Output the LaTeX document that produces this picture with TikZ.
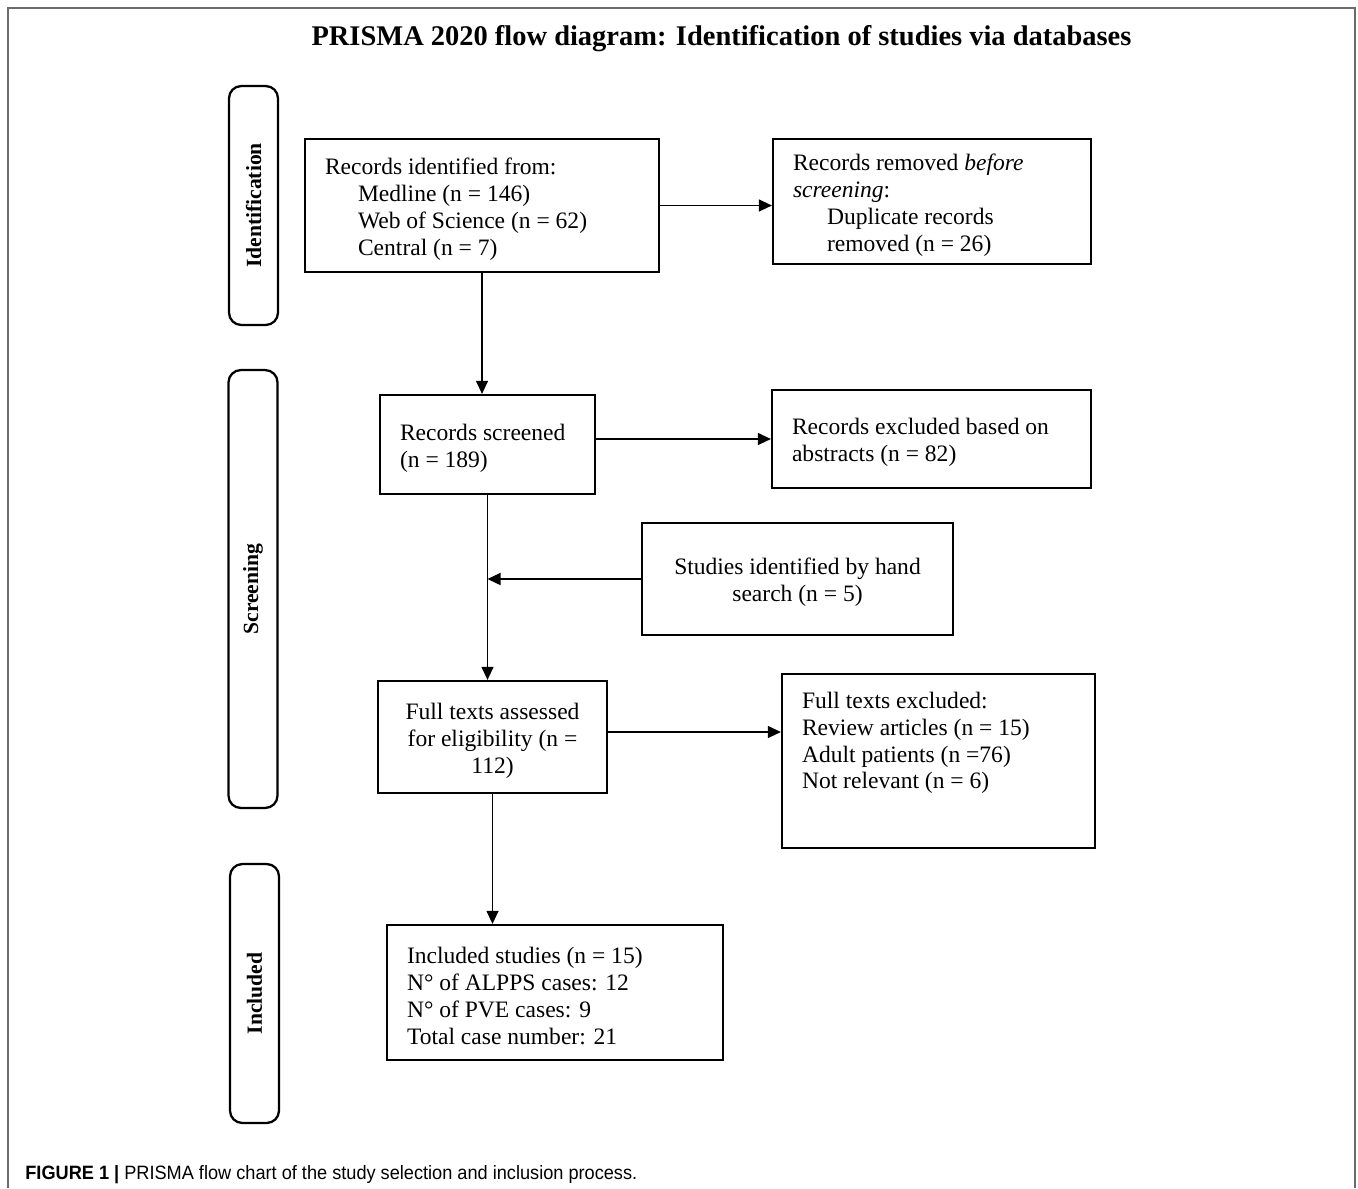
\documentclass[tikz,border=0pt]{standalone}
\usepackage{fontspec}
\setmainfont{Liberation Serif}
\newfontfamily\capfont[FakeStretch=0.94]{Liberation Sans}
\usetikzlibrary{positioning}
\usetikzlibrary{arrows.meta}
\definecolor{frame}{rgb}{0.42,0.42,0.42}

\begin{document}
\begin{tikzpicture}[x=0.02cm, y=-0.02cm,
  box/.style={draw, line width=1.3pt, inner sep=0pt, text height=13.5pt, align=flush left,
    font=\fontsize{13.4}{15.3}\selectfont},
  stage/.style={draw, line width=1.3pt, rounded corners=7pt, rotate=90, minimum height=0.98cm,
    font=\bfseries\fontsize{12.3}{14}\selectfont},
  flow/.style={line width=0.7pt, -{Triangle[length=0.26cm, width=0.24cm]}},
]
  \useasboundingbox (0,0) rectangle (1358,1188);
  \draw[frame, line width=1.3pt] (8,1188) -- (8,8) -- (1355,8) -- (1355,1188);

  \node (title) at (721.5,39) {\bfseries\fontsize{16.2}{19}\selectfont PRISMA 2020 flow diagram: Identification of studies via databases};

  % stages
  \node[stage, minimum width=4.78cm] (ident) at (253.5,205.5) {Identification};
  \node[stage, minimum width=8.76cm] (screen) at (253,589) {Screening};
  \node[stage, minimum width=5.18cm] (incl) at (254.5,993.5) {Included};

  % boxes
  \node[box, minimum width=7.08cm, minimum height=2.66cm, text width=6.28cm] (found) at (482,205.5)
    {Records identified from:\\
     \hspace*{0.66cm}Medline (n = 146)\\
     \hspace*{0.66cm}Web of Science (n = 62)\\
     \hspace*{0.66cm}Central (n = 7)};
  \node[box, minimum width=6.36cm, minimum height=2.5cm, text width=5.56cm] (dupl) at (932,201.5)
    {Records removed \emph{before}\\\emph{screening}:\\
     \hspace*{0.68cm}Duplicate records\\
     \hspace*{0.68cm}removed (n = 26)};
  \node[box, minimum width=4.3cm, minimum height=1.98cm, text width=3.5cm] (scrd) at (487.5,444.5)
    {Records screened\\(n = 189)};
  \node[box, minimum width=6.38cm, minimum height=1.96cm, text width=5.58cm] (excl) at (931.5,439)
    {Records excluded based on\\abstracts (n = 82)};
  \node[box, minimum width=6.22cm, minimum height=2.24cm, text width=5.4cm, align=flush center] (hand) at (797.5,579)
    {Studies identified by hand\\search (n = 5)};
  \node[box, minimum width=4.58cm, minimum height=2.24cm, text width=3.9cm, align=flush center] (full) at (492.5,737)
    {Full texts assessed\\for eligibility (n =\\112)};
  \node[box, minimum width=6.26cm, minimum height=3.48cm, text width=5.46cm, text depth=73.5pt] (fexc) at (938.5,761)
    {Full texts excluded:\\
     Review articles (n = 15)\\
     Adult patients (n =76)\\
     Not relevant (n = 6)};
  \node[box, minimum width=6.72cm, minimum height=2.7cm, text width=5.92cm] (inc) at (555,992.5)
    {Included studies (n = 15)\\
     N° of ALPPS cases: 12\\
     N° of PVE cases: 9\\
     Total case number: 21};

  % arrows
  \draw[flow] (found.east) -- (found.east -| dupl.west);
  \draw[flow] (found.south) -- (found.south |- scrd.north);
  \draw[flow] (scrd.east |- excl.west) -- (excl.west);
  \draw[flow] (scrd.south) -- (scrd.south |- full.north);
  \draw[flow] (hand.west) -- (hand.west -| scrd.south);
  \draw[flow] ([yshift=0.1cm]full.east) -- ([yshift=0.1cm]full.east -| fexc.west);
  \draw[flow] (full.south) -- (full.south |- inc.north);

  \node[anchor=west, inner sep=0pt] (caption) at (25,1175)
    {\capfont\fontsize{11}{13}\selectfont\textbf{FIGURE 1 |} PRISMA flow chart of the study selection and inclusion process.};
\end{tikzpicture}
\end{document}
